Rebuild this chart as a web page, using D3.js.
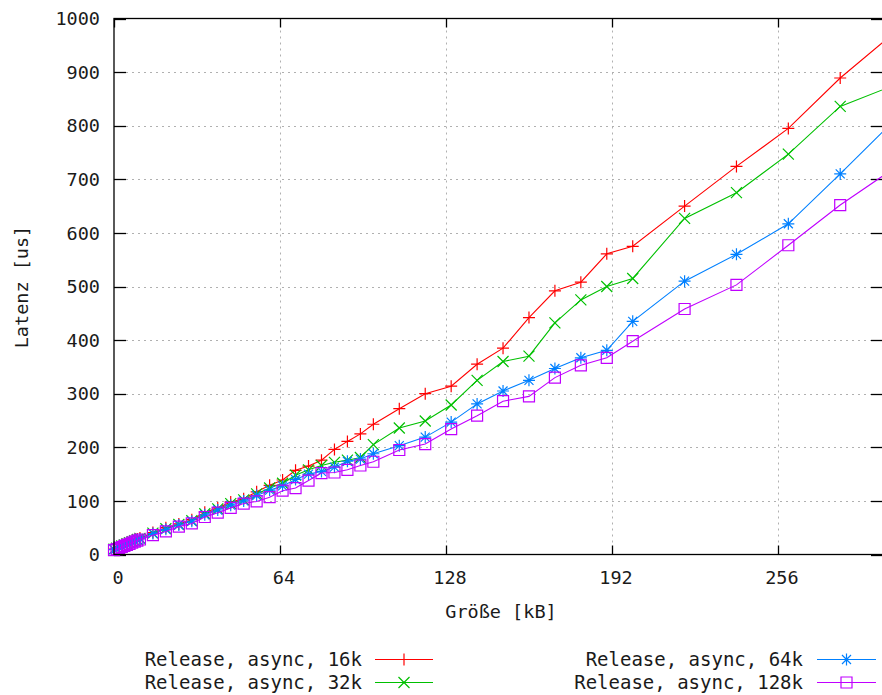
<!DOCTYPE html>
<html>
<head>
<meta charset="utf-8">
<script src="https://cdn.jsdelivr.net/npm/d3@7"></script>
<style>
	body { margin: 0; background: #fff; }
	svg { display: block; }
</style>
</head>
<body>
<svg id="chart"></svg>
<script>
// Sizes in kB, shared by all four series
const sizes = [0, 1, 2, 3, 4, 5, 6, 7, 8, 9, 10, 15, 20, 25, 30, 35, 40, 45, 50, 55, 60, 65, 70, 75, 80, 85, 90, 95, 100, 110, 120, 130, 140, 150, 160, 170, 180, 190, 200, 220, 240, 260, 280, 300];

const latency16k = [10, 12, 14, 16, 18, 20, 22, 24, 27, 29, 31, 41, 50, 57, 65, 79, 87, 98, 104, 117, 129, 139, 157, 165, 176, 196, 211, 225, 243, 272, 300, 314, 355, 385, 442, 492, 508, 561, 575, 650, 724, 795, 889, 970];
const latency32k = [10, 12, 14, 16, 18, 20, 22, 24, 26, 28, 30, 40, 48, 56, 63, 76, 85, 95, 102, 113, 124, 133, 148, 158, 166, 172, 176, 181, 205, 236, 249, 279, 325, 360, 370, 432, 475, 500, 515, 627, 675, 747, 836, 874];
const latency64k = [9, 11, 13, 15, 17, 19, 21, 23, 25, 27, 29, 39, 47, 55, 62, 74, 83, 92, 100, 110, 120, 128, 140, 150, 155, 163, 174, 178, 188, 203, 219, 247, 281, 305, 325, 347, 367, 381, 435, 510, 560, 617, 710, 806];
const latency128k = [8, 10, 12, 14, 16, 18, 20, 22, 24, 26, 28, 36, 43, 52, 58, 70, 78, 87, 95, 99, 107, 119, 124, 138, 152, 153, 158, 166, 173, 195, 206, 234, 259, 286, 295, 330, 353, 367, 398, 458, 503, 577, 652, 718];

const seriesNames = ["Release, async, 16k", "Release, async, 32k", "Release, async, 64k", "Release, async, 128k"];
const seriesValues = [latency16k, latency32k, latency64k, latency128k];
const seriesColors = ["#ff0000", "#00c000", "#0080ff", "#c000ff"];
const seriesMarkers = ["plus", "cross", "star", "square"];

const xTicks = [0, 64, 128, 192, 256];
const yTicks = [0, 100, 200, 300, 400, 500, 600, 700, 800, 900, 1000];

const WIDTH = 882;
const HEIGHT = 695;
const FONT = "'DejaVu Sans Mono', monospace";
const FONT_SIZE = "18.5px";
const TEXT_COLOR = "#1a1a1a";

const svg = d3.select("#chart").attr("width", WIDTH).attr("height", HEIGHT);

const x = d3.scaleLinear().domain([0, 296.5]).range([114, 883]);
const y = d3.scaleLinear().domain([0, 1000]).range([554.5, 18.5]);
const [x0, x1] = x.range();
const [yb, yt] = y.range();

svg.append("defs")
	.append("clipPath")
	.attr("id", "plot-clip")
	.append("rect")
	.attr("x", x0)
	.attr("y", yt)
	.attr("width", x1 - x0)
	.attr("height", yb - yt);

// grid
const grid = svg.append("g")
	.style("stroke", "#b0b0b0")
	.style("stroke-width", "1px")
	.style("stroke-dasharray", "2 4");

grid.selectAll("line.gx")
	.data(xTicks.filter((t) => t > 0))
	.enter()
	.append("line")
	.attr("x1", (d) => Math.round(x(d)) + 0.5)
	.attr("x2", (d) => Math.round(x(d)) + 0.5)
	.attr("y1", yb)
	.attr("y2", yt);

grid.selectAll("line.gy")
	.data(yTicks.filter((t) => t > 0 && t < 1000))
	.enter()
	.append("line")
	.attr("x1", x0)
	.attr("x2", x1)
	.attr("y1", (d) => Math.round(y(d)) + 0.5)
	.attr("y2", (d) => Math.round(y(d)) + 0.5);

// ticks on all four sides
const ticks = svg.append("g")
	.style("stroke", "#000")
	.style("stroke-width", "1.3px");

for (const t of xTicks) {
	const px = Math.round(x(t)) + 0.5;
	ticks.append("line").attr("x1", px).attr("x2", px).attr("y1", yb).attr("y2", yb - 9);
	ticks.append("line").attr("x1", px).attr("x2", px).attr("y1", yt).attr("y2", yt + 9);
}
for (const t of yTicks) {
	const py = Math.round(y(t)) + 0.5;
	ticks.append("line").attr("x1", x0).attr("x2", x0 + 12).attr("y1", py).attr("y2", py);
	ticks.append("line").attr("x1", x1).attr("x2", x1 - 12).attr("y1", py).attr("y2", py);
}

// tick labels
const labels = svg.append("g")
	.style("font-family", FONT)
	.style("font-size", FONT_SIZE)
	.style("fill", TEXT_COLOR);

labels.selectAll("text.xl")
	.data(xTicks)
	.enter()
	.append("text")
	.attr("x", (d) => x(d) + 4)
	.attr("y", 584)
	.attr("text-anchor", "middle")
	.text((d) => d);

labels.selectAll("text.yl")
	.data(yTicks)
	.enter()
	.append("text")
	.attr("x", 100)
	.attr("y", (d) => y(d))
	.attr("dy", "0.36em")
	.attr("text-anchor", "end")
	.text((d) => d);

labels.append("text")
	.attr("x", 501)
	.attr("y", 618)
	.attr("text-anchor", "middle")
	.text("Größe [kB]");

labels.append("text")
	.attr("transform", "translate(28,287) rotate(-90)")
	.attr("text-anchor", "middle")
	.text("Latenz [us]");

// markers
function drawMarker(g, kind, cx, cy, color) {
	const r = 6;
	const parts = [];
	if (kind === "plus" || kind === "star") {
		parts.push(`M${cx - r},${cy}L${cx + r},${cy}`, `M${cx},${cy - r}L${cx},${cy + r}`);
	}
	if (kind === "cross" || kind === "star") {
		const q = kind === "star" ? 4.5 : 5.5;
		parts.push(`M${cx - q},${cy - q}L${cx + q},${cy + q}`, `M${cx - q},${cy + q}L${cx + q},${cy - q}`);
	}
	if (kind === "square") {
		const s = 5.5;
		parts.push(`M${cx - s},${cy - s}h${2 * s}v${2 * s}h${-2 * s}Z`);
	}
	g.append("path")
		.attr("d", parts.join(""))
		.style("fill", "none")
		.style("stroke", color)
		.style("stroke-width", "1.2px");
}

const line = d3.line()
	.x((d) => x(d.size))
	.y((d) => y(d.value));

seriesValues.forEach((values, i) => {
	const pts = sizes.map((s, j) => ({ size: s, value: values[j] }));
	const g = svg.append("g");

	g.append("path")
		.datum(pts)
		.attr("d", line)
		.attr("clip-path", "url(#plot-clip)")
		.style("fill", "none")
		.style("stroke", seriesColors[i])
		.style("stroke-width", "1.1px");

	for (const p of pts) {
		if (p.size > x.domain()[1]) continue;
		drawMarker(g, seriesMarkers[i], x(p.size), y(p.value), seriesColors[i]);
	}
});

// border
svg.append("rect")
	.attr("x", x0)
	.attr("y", yt)
	.attr("width", x1 - x0)
	.attr("height", yb - yt)
	.style("fill", "none")
	.style("stroke", "#000")
	.style("stroke-width", "1.3px");

// legend, two columns
const legendPos = [
	{ textX: 362, lineX1: 375, lineX2: 433, y: 659.5 },
	{ textX: 362, lineX1: 375, lineX2: 433, y: 682.5 },
	{ textX: 803, lineX1: 817, lineX2: 876, y: 659.5 },
	{ textX: 803, lineX1: 817, lineX2: 876, y: 682.5 },
];

const legend = svg.append("g");
seriesNames.forEach((name, i) => {
	const p = legendPos[i];
	legend.append("text")
		.attr("x", p.textX)
		.attr("y", p.y)
		.attr("dy", "0.36em")
		.attr("text-anchor", "end")
		.style("font-family", FONT)
		.style("font-size", "19px")
		.style("fill", TEXT_COLOR)
		.text(name);
	legend.append("line")
		.attr("x1", p.lineX1)
		.attr("x2", p.lineX2)
		.attr("y1", p.y)
		.attr("y2", p.y)
		.style("stroke", seriesColors[i])
		.style("stroke-width", "1.1px");
	drawMarker(legend, seriesMarkers[i], (p.lineX1 + p.lineX2) / 2, p.y, seriesColors[i]);
});
</script>
</body>
</html>
